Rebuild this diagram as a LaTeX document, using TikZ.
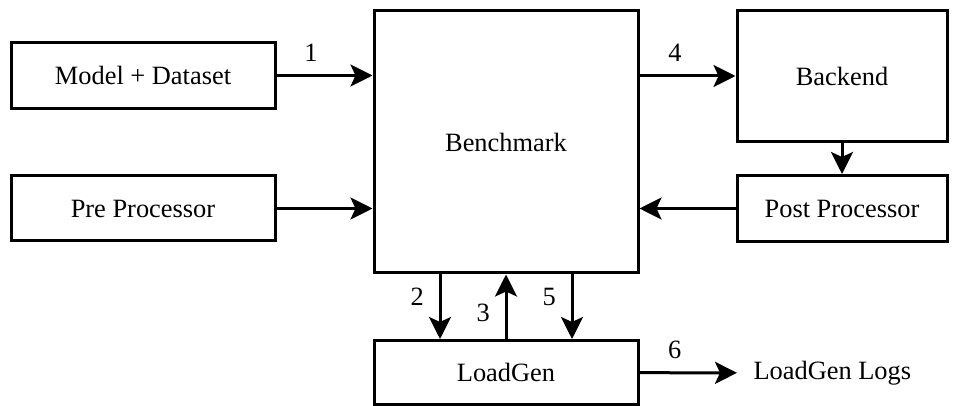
\documentclass[tikz,border=0pt]{standalone}
\usepackage{fontspec}
\setmainfont{Liberation Serif}
\newfontfamily\figfont{Liberation Serif}
\usetikzlibrary{arrows.meta}

\begin{document}
\begin{tikzpicture}[x=0.5pt,y=-0.5pt,line width=1.5pt,
        every node/.style={font=\figfont\fontsize{13.2}{16}\selectfont},
        blk/.style={draw,line width=1.5pt,inner sep=0pt},
        arr/.style={-{Stealth[length=11pt,width=11pt,inset=2.5pt]}}]
        \useasboundingbox (0,0) rectangle (959,406);
        \node[blk,minimum width=132pt,minimum height=33pt] (model) at (143,75.5) {Model + Dataset};
        \node[blk,minimum width=132pt,minimum height=32.5pt] (pre) at (143,208.5) {Pre Processor};
        \node[blk,minimum width=132pt,minimum height=131pt] (bench) at (506,142) {Benchmark};
        \node[blk,minimum width=105pt,minimum height=65.5pt] (backend) at (842,76) {Backend};
        \node[blk,minimum width=105pt,minimum height=33pt] (post) at (842,208.5) {Post Processor};
        \node[blk,minimum width=132pt,minimum height=32pt] (loadgen) at (506,372.5) {LoadGen};
        \node[anchor=west,inner xsep=7.5pt,inner ysep=0pt] (logs) at (737,373) {LoadGen Logs};
        \draw[arr] (model) -- node[pos=0.36,above=3pt] {1} (bench.west |- model);
        \draw[arr] (pre) -- (bench.west |- pre);
        \draw[arr] (bench.east |- backend) -- node[pos=0.37,above=3pt] {4} (backend);
        \draw[arr] (backend) -- (post);
        \draw[arr] (post) -- (bench.east |- post);
        \draw[arr] ([xshift=-33pt]bench.south) -- node[pos=0.35,left=4pt] {2} ([xshift=-33pt]loadgen.north);
        \draw[arr] (loadgen.north) -- node[pos=0.4,left=4pt] {3} (bench.south);
        \draw[arr] ([xshift=33pt]bench.south) -- node[pos=0.35,left=4pt] {5} ([xshift=33pt]loadgen.north);
        \draw[arr] (loadgen) -- node[pos=0.36,above=3pt] {6} (logs);
    \end{tikzpicture}
\end{document}
